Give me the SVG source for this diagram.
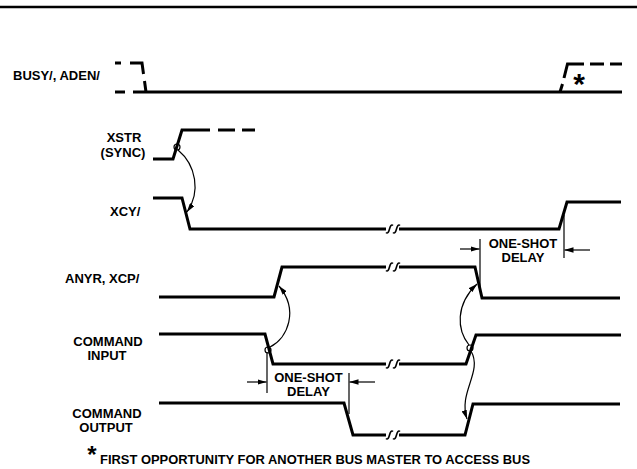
<svg xmlns="http://www.w3.org/2000/svg" width="637" height="469" viewBox="0 0 637 469">
<defs>
<style>
.sig{fill:none;stroke:#000;stroke-width:3;stroke-linejoin:miter;stroke-linecap:butt}
.thin{fill:none;stroke:#000;stroke-width:1.2}
.brk{fill:none;stroke:#000;stroke-width:1.6}
.ring{fill:none;stroke:#000;stroke-width:1.2}
.lbl{font-family:"Liberation Sans",Arial,sans-serif;font-weight:bold;font-size:13px;fill:#000}
.mid{text-anchor:middle}
.star{font-family:"Liberation Sans",Arial,sans-serif;font-weight:bold;fill:#000;text-anchor:middle}
</style>
<marker id="ah" viewBox="0 0 10 6" refX="10" refY="3" markerWidth="9" markerHeight="5.5" markerUnits="userSpaceOnUse" orient="auto"><path d="M0,0L10,3L0,6z" fill="#000"/></marker>
<path id="brk" d="M-3.5,3.5 C-2,5 -0.8,3 0,0 S2,-5 3.5,-3.5"/>
</defs>
<rect width="637" height="469" fill="#fff"/>
<line x1="0" y1="7" x2="637" y2="7" stroke="#000" stroke-width="2.5"/>

<g id="busy">
<text class="lbl" x="13" y="80">BUSY/, ADEN/</text>
<path class="sig" d="M115,63H121 M130,63H142L143.5,74 M144.5,81L146,92 M115,92H125 M133,92H622"/>
<path class="sig" d="M560,92L562.5,84 M564,78L567.5,64H584 M590,64H604 M610,64H622"/>
<text class="star" x="579" y="94" font-size="30">*</text>
</g>

<g id="xstr">
<text class="lbl mid" x="124" y="142">XSTR</text>
<text class="lbl mid" x="123" y="157">(SYNC)</text>
<path class="sig" d="M153,159H173L182,130H210 M218,130H235 M242,130H255"/>
<circle class="ring" cx="177" cy="147" r="3"/>
</g>

<g id="xcy">
<text class="lbl" x="110" y="216">XCY/</text>
<path class="sig" d="M153,198H182L190,229H386 M399,229H559L567,202H621"/>
<use href="#brk" class="brk" x="389.5" y="229"/>
<use href="#brk" class="brk" x="396.5" y="229"/>
</g>

<g id="anyr">
<text class="lbl" x="65" y="283">ANYR, XCP/</text>
<path class="sig" d="M159,297H274L282,267H386 M399,267H475L482,298H620"/>
<use href="#brk" class="brk" x="389.5" y="267"/>
<use href="#brk" class="brk" x="396.5" y="267"/>
</g>

<g id="cmd-input">
<text class="lbl mid" x="108" y="346">COMMAND</text>
<text class="lbl mid" x="107" y="360">INPUT</text>
<path class="sig" d="M159,334H265L273,364H386 M399,364H466L476,335H621"/>
<use href="#brk" class="brk" x="389.5" y="364"/>
<use href="#brk" class="brk" x="396.5" y="364"/>
<circle class="ring" cx="268" cy="350" r="3"/>
<circle class="ring" cx="470" cy="348" r="3"/>
</g>

<g id="cmd-output">
<text class="lbl mid" x="107" y="418">COMMAND</text>
<text class="lbl mid" x="106" y="432">OUTPUT</text>
<path class="sig" d="M159,403H344L353,435H386 M399,435H465L473,404H620"/>
<use href="#brk" class="brk" x="389.5" y="435"/>
<use href="#brk" class="brk" x="396.5" y="435"/>
</g>

<g id="delay-upper">
<line class="thin" x1="480" y1="239" x2="480" y2="287"/>
<line class="thin" x1="564" y1="215" x2="564" y2="258"/>
<text class="lbl mid" x="523" y="248">ONE-SHOT</text>
<text class="lbl mid" x="523" y="262">DELAY</text>
</g>

<g id="delay-lower">
<line class="thin" x1="267" y1="352" x2="267" y2="393"/>
<line class="thin" x1="349" y1="373" x2="349" y2="414"/>
<text class="lbl mid" x="308.5" y="382">ONE-SHOT</text>
<text class="lbl mid" x="308.5" y="396">DELAY</text>
</g>

<g id="connectors">
<path class="thin" d="M178,150 C196,165 201,192 187,212" marker-end="url(#ah)"/>
<path class="thin" d="M270,347 C288,338 299,310 279,286" marker-end="url(#ah)"/>
<path class="thin" d="M469,345 C457,330 455,305 477,284" marker-end="url(#ah)"/>
<path class="thin" d="M471,351 C483,372 458,392 467,419" marker-end="url(#ah)"/>
<line class="thin" x1="460" y1="249" x2="479.5" y2="249" marker-end="url(#ah)"/>
<line class="thin" x1="590" y1="250" x2="564.5" y2="250" marker-end="url(#ah)"/>
<line class="thin" x1="247" y1="382" x2="266.5" y2="382" marker-end="url(#ah)"/>
<line class="thin" x1="375" y1="382" x2="349.5" y2="382" marker-end="url(#ah)"/>
</g>

<g id="footnote">
<text class="star" x="92" y="463" font-size="24">*</text>
<text class="lbl" x="100" y="464" font-size="12.5" textLength="430" lengthAdjust="spacingAndGlyphs">FIRST OPPORTUNITY FOR ANOTHER BUS MASTER TO ACCESS BUS</text>
</g>
</svg>
